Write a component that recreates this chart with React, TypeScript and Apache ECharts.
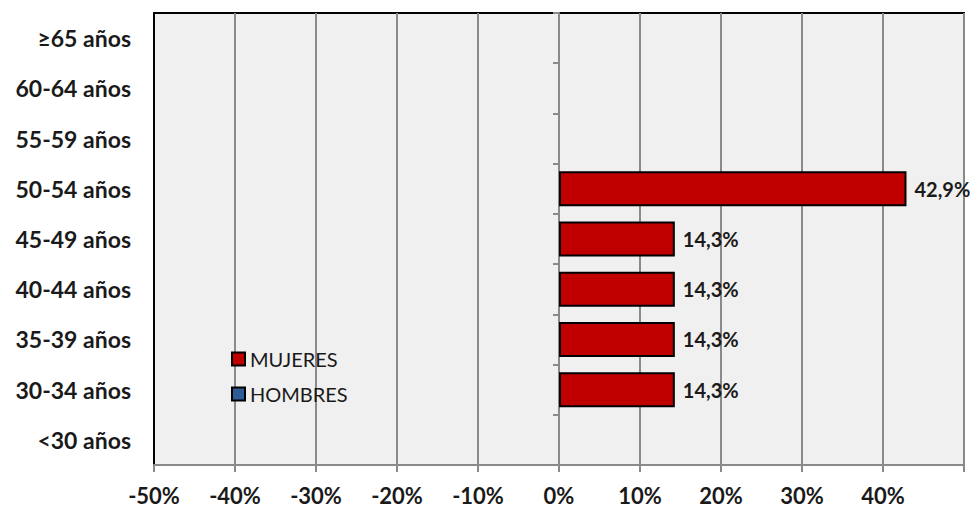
import React, { useEffect, useRef } from "react";
import * as echarts from "echarts";

const categories = [
  "<30 años",
  "30-34 años",
  "35-39 años",
  "40-44 años",
  "45-49 años",
  "50-54 años",
  "55-59 años",
  "60-64 años",
  "≥65 años",
];
const mujeres: (number | null)[] = [null, 14.3, 14.3, 14.3, 14.3, 42.9, null, null, null];
const hombres: (number | null)[] = [null, null, null, null, null, null, null, null, null];
const seriesNames = ["MUJERES", "HOMBRES"];

const FONT = "Lato, 'Open Sans', sans-serif";

export default function App() {
  const ref = useRef<HTMLDivElement>(null);
  useEffect(() => {
    if (!ref.current) return;
    const chart = echarts.init(ref.current, undefined, { renderer: "svg" });
    const fmt = (v: number) => v.toFixed(1).replace(".", ",") + "%";
    chart.setOption({
      animation: false,
      grid: {
        show: true,
        left: 154,
        right: 12,
        top: 13,
        bottom: 46,
        backgroundColor: "#f0f0f0",
        borderColor: "#000",
        borderWidth: 2,
      },
      legend: {
        orient: "vertical",
        left: 226,
        top: 344,
        itemWidth: 13,
        itemHeight: 13,
        itemGap: 15,
        icon: "rect",
        data: seriesNames,
        textStyle: { fontFamily: FONT, fontSize: 20, color: "#1a1a1a" },
      },
      xAxis: {
        type: "value",
        min: -50,
        max: 50,
        interval: 10,
        axisLine: { show: true, onZero: false, lineStyle: { color: "#8a8a8a", width: 2 } },
        axisTick: { show: true, length: 7, lineStyle: { color: "#8a8a8a", width: 2 } },
        splitLine: { show: true, lineStyle: { color: "#8a8a8a", width: 2 } },
        axisLabel: {
          margin: 19,
          fontFamily: FONT,
          fontWeight: "bold",
          fontSize: 22,
          color: "#1a1a1a",
          formatter: (v: number) => (v === 50 ? "" : v + "%"),
        },
      },
      yAxis: [
        {
          type: "category",
          position: "left",
          data: categories,
          axisLine: { show: true, onZero: false, lineStyle: { color: "#000", width: 2 } },
          axisTick: { show: false },
          axisLabel: {
            margin: 23,
            fontFamily: FONT,
            fontWeight: "bold",
            fontSize: 23,
            color: "#1a1a1a",
          },
        },
        {
          type: "category",
          position: "left",
          data: categories,
          axisLine: { show: true, onZero: true, lineStyle: { color: "#8a8a8a", width: 2 } },
          axisTick: { show: true, length: 6, lineStyle: { color: "#8a8a8a", width: 2 } },
          axisLabel: { show: false },
        },
      ],
      series: [
        {
          name: seriesNames[0],
          type: "bar",
          yAxisIndex: 0,
          data: mujeres,
          barWidth: 35,
          barGap: "-100%",
          itemStyle: { color: "#c00000", borderColor: "#000", borderWidth: 2 },
          label: {
            show: true,
            position: "right",
            distance: 8,
            fontFamily: FONT,
            fontWeight: "bold",
            fontSize: 20,
            color: "#1a1a1a",
            formatter: (p: any) => fmt(p.value),
          },
        },
        {
          name: seriesNames[1],
          type: "bar",
          yAxisIndex: 0,
          data: hombres,
          barWidth: 35,
          barGap: "-100%",
          itemStyle: { color: "#2e5c94", borderColor: "#000", borderWidth: 2 },
          label: {
            show: true,
            position: "left",
            fontFamily: FONT,
            fontWeight: "bold",
            fontSize: 20,
            color: "#1a1a1a",
            formatter: (p: any) => fmt(Math.abs(p.value)),
          },
        },
      ],
    });
    return () => chart.dispose();
  }, []);
  return (
    <div
      ref={ref}
      style={{ position: "absolute", left: 0, top: 0, width: 976, height: 511 }}
    />
  );
}
